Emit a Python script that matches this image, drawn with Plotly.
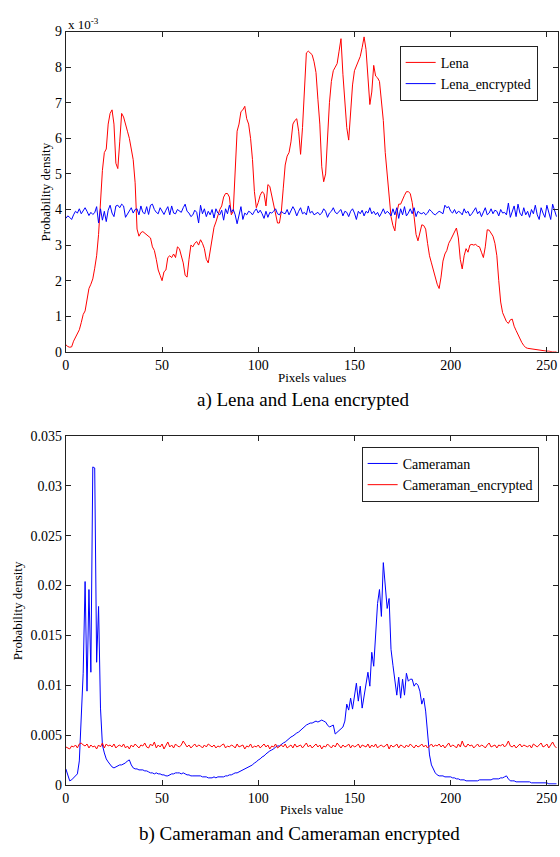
import plotly.graph_objects as go

W, H = 560, 857

pixel_values = list(range(256))

# Lena histogram (probability density, units of 1e-3)
lena = [
    0.20, 0.15, 0.13, 0.14, 0.30, 0.42, 0.50, 0.62, 0.82, 1.05, 1.15, 1.45, 1.78, 1.90, 2.05, 2.35,
    2.70, 3.30, 4.20, 5.10, 5.60, 5.70, 6.40, 6.70, 6.80, 6.40, 5.30, 5.15, 5.90, 6.70, 6.60, 6.35,
    6.20, 6.00, 5.70, 5.40, 4.75, 3.45, 3.25, 3.35, 3.38, 3.33, 3.30, 3.25, 3.20, 2.95, 2.85, 2.60,
    2.30, 2.15, 2.00, 2.25, 2.30, 2.65, 2.70, 2.65, 2.75, 2.65, 2.95, 2.90, 2.70, 2.50, 2.15, 2.10,
    2.60, 3.00, 2.95, 3.05, 3.10, 3.00, 3.15, 3.05, 2.90, 2.60, 2.50, 2.80, 3.10, 3.50, 3.65, 3.85,
    4.00, 4.10, 4.35, 4.45, 4.45, 4.35, 3.85, 3.95, 5.20, 6.20, 6.40, 6.75, 6.80, 6.90, 6.55, 6.40,
    6.00, 5.40, 4.50, 4.05, 4.20, 4.40, 4.50, 4.45, 4.10, 4.70, 4.65, 4.40, 4.20, 3.90, 3.62, 3.62,
    3.95, 4.60, 5.25, 5.50, 5.60, 5.90, 6.40, 6.50, 6.55, 6.20, 5.55, 6.30, 7.20, 8.40, 8.45, 8.40,
    8.35, 8.15, 7.85, 7.10, 6.40, 5.20, 4.78, 5.00, 6.20, 7.00, 7.60, 7.90, 8.00, 8.10, 8.45, 8.80,
    7.80, 6.90, 6.30, 5.95, 6.90, 7.50, 7.90, 8.05, 8.15, 8.30, 8.55, 8.85, 8.50, 7.70, 6.95, 7.30,
    8.05, 7.75, 7.70, 7.60, 7.10, 6.50, 5.60, 5.00, 4.50, 3.80, 3.55, 3.40, 3.90, 4.15, 4.15, 4.30,
    4.40, 4.50, 4.50, 4.45, 4.20, 3.80, 3.30, 3.12, 3.35, 3.57, 3.55, 3.45, 3.05, 2.70, 2.50, 2.30,
    2.10, 1.90, 1.78, 2.10, 2.55, 2.75, 2.85, 3.05, 3.15, 3.25, 3.35, 3.48, 3.20, 2.60, 2.33, 2.70,
    2.90, 2.80, 3.00, 3.02, 3.00, 3.02, 2.97, 2.95, 2.80, 2.65, 2.95, 3.43, 3.42, 3.35, 3.25, 3.05,
    2.70, 2.00, 1.40, 1.10, 0.95, 0.85, 0.80, 0.90, 0.92, 0.72, 0.60, 0.48, 0.35, 0.26, 0.18, 0.12,
    0.10, 0.09, 0.08, 0.07, 0.06, 0.05, 0.05, 0.04, 0.03, 0.03, 0.02, 0.02, 0.00, 0.00, 0.00, 0.00,
]

# Lena encrypted histogram (units of 1e-3)
lena_encrypted = [
    3.75, 3.82, 3.78, 3.72, 3.85, 3.95, 3.90, 4.02, 3.88, 3.97, 4.05, 3.95, 3.83, 3.92, 3.86, 3.91,
    4.08, 3.62, 4.02, 3.70, 3.95, 3.66, 3.98, 4.12, 3.90, 3.80, 4.10, 4.12, 4.05, 4.15, 4.10, 3.78,
    3.88, 3.96, 4.05, 3.90, 4.00, 4.02, 3.85, 4.10, 3.92, 3.88, 4.08, 3.86, 4.12, 4.15, 4.00, 3.92,
    3.88, 4.05, 3.95, 3.86, 3.98, 4.08, 3.85, 4.10, 3.90, 3.88, 4.00, 3.95, 3.92, 4.05, 4.15, 3.95,
    3.90, 3.80, 3.85, 3.98, 3.92, 3.62, 4.12, 3.88, 4.02, 3.80, 3.95, 3.85, 4.00, 3.76, 4.02, 3.90,
    3.85, 3.98, 3.70, 4.02, 3.88, 4.12, 3.92, 4.00, 3.85, 3.60, 3.80, 4.08, 3.72, 3.90, 3.85, 3.95,
    3.92, 3.85, 3.95, 4.02, 3.90, 3.98, 3.88, 3.75, 3.95, 3.78, 3.92, 3.90, 3.95, 4.02, 3.88, 3.85,
    3.95, 3.90, 3.88, 4.00, 3.85, 3.95, 4.08, 3.98, 3.82, 3.95, 4.05, 3.88, 3.92, 3.85, 4.10, 3.90,
    3.95, 3.85, 3.88, 3.92, 3.85, 3.90, 4.02, 3.95, 3.78, 3.90, 3.95, 4.05, 3.92, 3.88, 3.95, 4.00,
    3.82, 3.95, 3.92, 3.80, 3.95, 4.02, 3.90, 3.72, 3.95, 3.88, 3.98, 3.82, 3.95, 3.90, 4.05, 3.88,
    3.95, 3.85, 3.92, 3.80, 3.90, 4.02, 3.88, 3.95, 3.90, 3.82, 4.02, 3.85, 4.05, 3.75, 4.02, 3.85,
    4.08, 3.82, 3.90, 4.02, 3.88, 4.05, 3.80, 3.95, 3.90, 3.88, 3.92, 3.85, 3.90, 4.00, 3.95, 3.88,
    3.85, 3.90, 3.95, 3.92, 3.88, 4.12, 4.05, 4.08, 3.95, 3.90, 4.00, 3.88, 3.95, 3.92, 3.85, 4.02,
    3.90, 3.95, 3.82, 3.88, 3.95, 4.05, 3.88, 3.95, 3.80, 3.92, 4.05, 3.85, 3.90, 4.02, 3.88, 3.98,
    3.95, 3.82, 4.00, 3.90, 3.92, 3.85, 4.18, 3.78, 3.95, 4.10, 3.80, 4.15, 3.90, 3.82, 4.05, 3.85,
    3.95, 3.78, 4.00, 3.88, 4.12, 3.85, 3.72, 4.05, 3.90, 3.78, 4.12, 3.90, 3.72, 4.15, 3.95, 3.80,
]

# Cameraman histogram (probability density)
cameraman = [
    0.0016, 0.0010, 0.0004, 0.0005, 0.0007, 0.0008, 0.0011, 0.0024, 0.0065, 0.0112, 0.0204, 0.0094, 0.0196, 0.0113, 0.0319, 0.0318,
    0.0123, 0.0179, 0.0077, 0.0040, 0.0032, 0.0026, 0.0023, 0.0020, 0.0018, 0.0017, 0.0018, 0.0019, 0.0020, 0.0020, 0.0021, 0.0022,
    0.0024, 0.0025, 0.0020, 0.0017, 0.0016, 0.0016, 0.0015, 0.0015, 0.0015, 0.0014, 0.0014, 0.0013, 0.0012, 0.0012, 0.0011, 0.0012,
    0.0011, 0.0011, 0.0010, 0.0010, 0.0009, 0.0009, 0.0010, 0.0011, 0.0011, 0.0012, 0.0012, 0.0012, 0.0011, 0.0012, 0.0011, 0.0010,
    0.0010, 0.0009, 0.0009, 0.0009, 0.0009, 0.0009, 0.0009, 0.0008, 0.0008, 0.0008, 0.0007, 0.0007, 0.0007, 0.0008, 0.0007, 0.0008,
    0.0008, 0.0008, 0.0008, 0.0009, 0.0009, 0.0010, 0.0010, 0.0011, 0.0012, 0.0012, 0.0013, 0.0014, 0.0015, 0.0016, 0.0017, 0.0018,
    0.0019, 0.0020, 0.0022, 0.0023, 0.0025, 0.0026, 0.0028, 0.0029, 0.0031, 0.0033, 0.0034, 0.0035, 0.0036, 0.0038, 0.0039, 0.0039,
    0.0041, 0.0042, 0.0043, 0.0045, 0.0046, 0.0048, 0.0049, 0.0051, 0.0052, 0.0053, 0.0055, 0.0057, 0.0058, 0.0060, 0.0061, 0.0062,
    0.0062, 0.0063, 0.0064, 0.0063, 0.0064, 0.0065, 0.0064, 0.0063, 0.0060, 0.0058, 0.0059, 0.0060, 0.0051, 0.0053, 0.0054, 0.0056,
    0.0058, 0.0064, 0.0081, 0.0075, 0.0087, 0.0076, 0.0090, 0.0102, 0.0084, 0.0099, 0.0077, 0.0090, 0.0104, 0.0113, 0.0099, 0.0133,
    0.0119, 0.0150, 0.0182, 0.0196, 0.0169, 0.0223, 0.0196, 0.0177, 0.0187, 0.0136, 0.0120, 0.0104, 0.0090, 0.0108, 0.0087, 0.0106,
    0.0090, 0.0112, 0.0104, 0.0106, 0.0106, 0.0099, 0.0102, 0.0100, 0.0094, 0.0081, 0.0087, 0.0074, 0.0048, 0.0030, 0.0020, 0.0015,
    0.0012, 0.0010, 0.0009, 0.0009, 0.0009, 0.0008, 0.0008, 0.0008, 0.0008, 0.0007, 0.0007, 0.0006, 0.0006, 0.0005, 0.0005, 0.0005,
    0.0004, 0.0004, 0.0004, 0.0004, 0.0004, 0.0004, 0.0004, 0.0005, 0.0005, 0.0005, 0.0005, 0.0005, 0.0005, 0.0005, 0.0006, 0.0006,
    0.0006, 0.0006, 0.0007, 0.0007, 0.0008, 0.0009, 0.0006, 0.0004, 0.0004, 0.0004, 0.0003, 0.0003, 0.0003, 0.0003, 0.0003, 0.0003,
    0.0003, 0.0003, 0.0002, 0.0002, 0.0002, 0.0002, 0.0002, 0.0002, 0.0002, 0.0002, 0.0002, 0.0001, 0.0001, 0.0001, 0.0001, 0.0001,
]

# Cameraman encrypted histogram
cameraman_encrypted = [
    0.0038, 0.0037, 0.0036, 0.0039, 0.0038, 0.0040, 0.0037, 0.0041, 0.0042, 0.0040, 0.0039, 0.0041, 0.0037, 0.0040, 0.0038, 0.0039,
    0.0036, 0.0040, 0.0038, 0.0042, 0.0037, 0.0041, 0.0039, 0.0040, 0.0038, 0.0041, 0.0037, 0.0039, 0.0040, 0.0038, 0.0041, 0.0037,
    0.0039, 0.0036, 0.0040, 0.0038, 0.0041, 0.0039, 0.0037, 0.0040, 0.0039, 0.0042, 0.0038, 0.0037, 0.0041, 0.0039, 0.0043, 0.0037,
    0.0040, 0.0038, 0.0041, 0.0036, 0.0039, 0.0043, 0.0038, 0.0040, 0.0037, 0.0041, 0.0039, 0.0038, 0.0040, 0.0044, 0.0041, 0.0038,
    0.0040, 0.0037, 0.0039, 0.0041, 0.0038, 0.0040, 0.0039, 0.0037, 0.0040, 0.0038, 0.0041, 0.0039, 0.0038, 0.0040, 0.0037, 0.0039,
    0.0038, 0.0040, 0.0041, 0.0037, 0.0039, 0.0038, 0.0040, 0.0039, 0.0037, 0.0041, 0.0038, 0.0039, 0.0040, 0.0036, 0.0039, 0.0038,
    0.0041, 0.0037, 0.0039, 0.0038, 0.0040, 0.0037, 0.0039, 0.0041, 0.0038, 0.0040, 0.0036, 0.0039, 0.0038, 0.0041, 0.0037, 0.0039,
    0.0040, 0.0038, 0.0041, 0.0037, 0.0039, 0.0040, 0.0037, 0.0041, 0.0038, 0.0039, 0.0040, 0.0037, 0.0039, 0.0042, 0.0038, 0.0040,
    0.0037, 0.0039, 0.0041, 0.0038, 0.0040, 0.0036, 0.0039, 0.0038, 0.0041, 0.0039, 0.0037, 0.0040, 0.0038, 0.0042, 0.0039, 0.0037,
    0.0040, 0.0038, 0.0039, 0.0041, 0.0037, 0.0040, 0.0038, 0.0039, 0.0041, 0.0037, 0.0040, 0.0039, 0.0038, 0.0041, 0.0037, 0.0040,
    0.0038, 0.0041, 0.0037, 0.0039, 0.0040, 0.0038, 0.0039, 0.0041, 0.0036, 0.0040, 0.0038, 0.0039, 0.0041, 0.0037, 0.0040, 0.0039,
    0.0037, 0.0040, 0.0038, 0.0041, 0.0039, 0.0037, 0.0040, 0.0038, 0.0039, 0.0041, 0.0038, 0.0040, 0.0037, 0.0039, 0.0041, 0.0038,
    0.0040, 0.0039, 0.0041, 0.0038, 0.0040, 0.0037, 0.0039, 0.0042, 0.0038, 0.0040, 0.0039, 0.0037, 0.0041, 0.0038, 0.0044, 0.0039,
    0.0038, 0.0041, 0.0039, 0.0040, 0.0037, 0.0039, 0.0041, 0.0038, 0.0040, 0.0039, 0.0037, 0.0040, 0.0042, 0.0038, 0.0039, 0.0040,
    0.0037, 0.0040, 0.0039, 0.0041, 0.0038, 0.0040, 0.0044, 0.0039, 0.0038, 0.0040, 0.0037, 0.0039, 0.0041, 0.0038, 0.0040, 0.0039,
    0.0038, 0.0040, 0.0037, 0.0041, 0.0039, 0.0038, 0.0040, 0.0042, 0.0038, 0.0039, 0.0041, 0.0037, 0.0040, 0.0043, 0.0039, 0.0037,
]

x_ticks = [0, 50, 100, 150, 200, 250]
y1_ticks = [0, 1, 2, 3, 4, 5, 6, 7, 8, 9]
y2_ticks = [0, 0.005, 0.01, 0.015, 0.02, 0.025, 0.03, 0.035]
y2_labels = ["0", "0.005", "0.01", "0.015", "0.02", "0.025", "0.03", "0.035"]

FONT = "Liberation Serif"


def px(x):
    return x / W


def py(y):
    return 1 - y / H


fig = go.Figure()
fig.add_trace(go.Scatter(x=pixel_values, y=lena, mode="lines", name="Lena",
                         line=dict(color="#ff0000", width=1), xaxis="x", yaxis="y", legend="legend"))
fig.add_trace(go.Scatter(x=pixel_values, y=lena_encrypted, mode="lines", name="Lena_encrypted",
                         line=dict(color="#0000ff", width=1), xaxis="x", yaxis="y", legend="legend"))
fig.add_trace(go.Scatter(x=pixel_values, y=cameraman, mode="lines", name="Cameraman",
                         line=dict(color="#0000ff", width=1), xaxis="x2", yaxis="y2", legend="legend2"))
fig.add_trace(go.Scatter(x=pixel_values, y=cameraman_encrypted, mode="lines", name="Cameraman_encrypted",
                         line=dict(color="#ff0000", width=1), xaxis="x2", yaxis="y2", legend="legend2"))

axis_common = dict(showgrid=False, zeroline=False, showline=True, linecolor="#222222", linewidth=1,
                   mirror="ticks", ticks="inside", ticklen=5, tickcolor="#222222",
                   tickfont=dict(family=FONT, size=14, color="black"))

x0, x1 = 62.3, 558.4
fig.update_layout(
    width=W, height=H,
    margin=dict(l=0, r=0, t=0, b=0),
    paper_bgcolor="white", plot_bgcolor="white",
    font=dict(family=FONT, color="black"),
    xaxis=dict(domain=[px(x0), px(x1)], range=[0, 256], tickvals=x_ticks, anchor="y", **axis_common),
    yaxis=dict(domain=[py(351), py(25)], range=[0, 9], tickvals=y1_ticks, anchor="x", **axis_common),
    xaxis2=dict(domain=[px(x0), px(x1)], range=[0, 256], tickvals=x_ticks, anchor="y2", **axis_common),
    yaxis2=dict(domain=[py(791.7), py(436.7)], range=[0, 0.035], tickvals=y2_ticks, ticktext=y2_labels,
                anchor="x2", **axis_common),
    legend=dict(x=px(537.5), y=py(39.5), xanchor="right", yanchor="top",
                bgcolor="white", bordercolor="#222222", borderwidth=1,
                font=dict(family=FONT, size=14, color="black"), tracegroupgap=0, itemwidth=30),
    legend2=dict(x=px(538.5), y=py(447.7), xanchor="right", yanchor="top",
                 bgcolor="white", bordercolor="#222222", borderwidth=1,
                 font=dict(family=FONT, size=14, color="black"), tracegroupgap=0, itemwidth=30),
    showlegend=True,
)

annotations = [
    dict(text="x 10<sup>-3</sup>", x=px(62), y=py(17), xanchor="left", yanchor="middle",
         font=dict(family=FONT, size=13)),
    dict(text="Pixels values", x=px(310), y=py(377), xanchor="center", yanchor="middle",
         font=dict(family=FONT, size=13)),
    dict(text="Probability density", x=px(42), y=py(188), textangle=-90, xanchor="center", yanchor="middle",
         font=dict(family=FONT, size=13)),
    dict(text="a) Lena and Lena encrypted", x=px(302), y=py(400), xanchor="center", yanchor="middle",
         font=dict(family=FONT, size=19)),
    dict(text="Pixels value", x=px(310), y=py(817), xanchor="center", yanchor="middle",
         font=dict(family=FONT, size=13)),
    dict(text="Probability density", x=px(13), y=py(614), textangle=-90, xanchor="center", yanchor="middle",
         font=dict(family=FONT, size=13)),
    dict(text="b) Cameraman and Cameraman encrypted", x=px(298), y=py(842), xanchor="center", yanchor="middle",
         font=dict(family=FONT, size=19)),
]
for a in annotations:
    a.update(xref="paper", yref="paper", showarrow=False)
fig.update_layout(annotations=annotations)

# the page body's default margin would push the fixed-size figure past the window edges
fig.write_html("out.html", config={"displayModeBar": False},
               post_script="document.body.style.margin='0';document.body.style.overflow='hidden';")
